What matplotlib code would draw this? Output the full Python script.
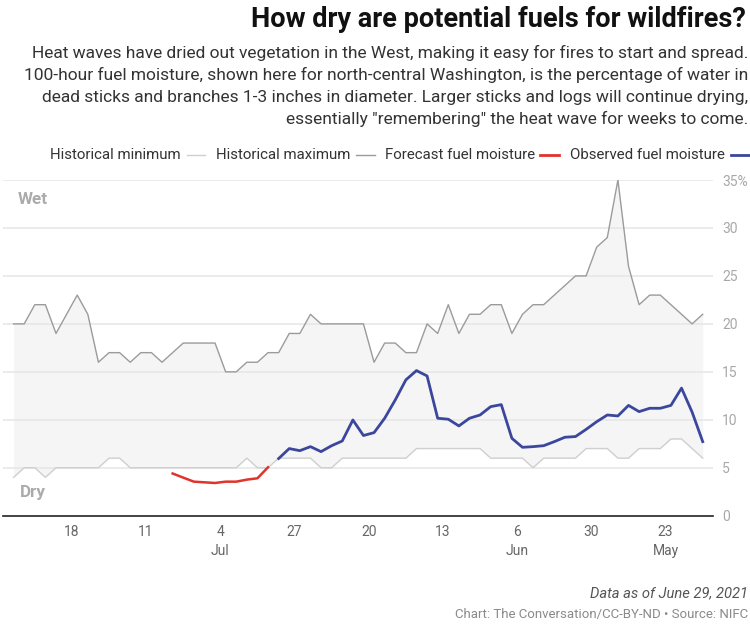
import matplotlib
matplotlib.use("Agg")
import matplotlib.pyplot as plt
import matplotlib.dates as mdates
import pandas as pd
import numpy as np
from matplotlib.lines import Line2D

plt.rcParams['font.family'] = ['Roboto', 'DejaVu Sans']

# ---------------- data ----------------
start_date = "2021-05-19 12:00"
hist_max = [21, 20, 21, 22, 23, 23, 22, 26, 35, 29, 28, 25, 25, 24, 23, 22, 22, 21, 19, 22,
            22, 21, 21, 19, 22, 19, 20, 17, 17, 18, 18, 16, 20, 20, 20, 20, 20, 21, 19, 19,
            17, 17, 16, 16, 15, 15, 18, 18, 18, 18, 17, 16, 17, 17, 16, 17, 17, 16, 21, 23,
            21, 19, 22, 22, 20, 20]
hist_min = [6, 7, 8, 8, 7, 7, 7, 6, 6, 7, 7, 7, 6, 6, 6, 6, 5, 6, 6, 6,
            6, 7, 7, 7, 7, 7, 7, 7, 6, 6, 6, 6, 6, 6, 6, 5, 5, 6, 6, 6,
            6, 5, 5, 6, 5, 5, 5, 5, 5, 5, 5, 5, 5, 5, 5, 6, 6, 5, 5, 5,
            5, 5, 4, 5, 5, 4]
observed = [7.72, 10.8, 13.3, 11.5, 11.2, 11.2, 10.85, 11.5, 10.4, 10.5,
            9.8, 9.0, 8.25, 8.18, 7.72, 7.3, 7.2, 7.13, 8.07, 11.58,
            11.37, 10.5, 10.16, 9.36, 10.06, 10.16, 14.57, 15.13, 14.16, 12.07,
            10.16, 8.66, 8.36, 9.98, 7.79, 7.3, 6.68, 7.2, 6.78, 7.0, 5.96]
forecast = [5.05, 3.9, 3.76, 3.55, 3.55, 3.41, 3.48, 3.55, 3.97, 4.4]

tick_dates = ["2021-05-23", "2021-05-30", "2021-06-06", "2021-06-13", "2021-06-20",
              "2021-06-27", "2021-07-04", "2021-07-11", "2021-07-18"]
tick_labels = ["23\nMay", "30", "6\nJun", "13", "20", "27", "4\nJul", "11", "18"]
y_ticks = [0, 5, 10, 15, 20, 25, 30, 35]
y_tick_labels = ["0", "5", "10", "15", "20", "25", "30", "35%"]

title = "How dry are potential fuels for wildfires?"
subtitle_lines = [
    "Heat waves have dried out vegetation in the West, making it easy for fires to start and spread.",
    "100-hour fuel moisture, shown here for north-central Washington, is the percentage of water in",
    "dead sticks and branches 1-3 inches in diameter. Larger sticks and logs will continue drying,",
    "essentially \"remembering\" the heat wave for weeks to come.",
]
legend_labels = ["Observed fuel moisture", "Forecast fuel moisture",
                 "Historical maximum", "Historical minimum"]

# ---------------- figure ----------------
W, H = 750, 625
fig = plt.figure(figsize=(W / 100, H / 100), dpi=100)

def fx(px):
    return px / W

def fy(py):
    return 1 - py / H

BLUE = "#3b479c"
RED = "#e0332b"
MAXC = "#9b9b9b"
MINC = "#cfcfcf"
FILLC = "#f5f5f5"
GRID = "#e6e6e6"

ax_left, ax_right, ax_top, ax_bottom = 3, 713, 180, 515.7
ax = fig.add_axes([fx(ax_left), fy(ax_bottom), fx(ax_right - ax_left), (ax_bottom - ax_top) / H])

dates = pd.date_range(start_date, periods=len(hist_max), freq="D")
obs_dates = dates[:len(observed)]
fc_dates = dates[len(observed):len(observed) + len(forecast)]

ax.fill_between(dates, hist_min, hist_max, color=FILLC, lw=0, zorder=1)
for yv in y_ticks[1:]:
    ax.axhline(yv, color=GRID, lw=1.1, zorder=1.5)
ax.plot(dates, hist_max, color=MAXC, lw=1.0, zorder=2)
ax.plot(dates, hist_min, color=MINC, lw=1.0, zorder=2)
ax.plot(obs_dates, observed, color=BLUE, lw=2.0, zorder=3, solid_joinstyle="round")
ax.plot(fc_dates, forecast, color=RED, lw=1.8, zorder=3, solid_joinstyle="round")
ax.axhline(0, color="#222222", lw=1.2, zorder=4, clip_on=False)

ax.set_ylim(0, 35)
d0 = mdates.date2num(dates[0])
ax.set_xlim(d0 + 66.0, d0 - 0.97)

ax.set_xticks([mdates.date2num(pd.Timestamp(t)) for t in tick_dates])
ax.set_xticklabels(tick_labels, color="#666666", fontsize=10, linespacing=1.45)
ax.tick_params(axis="x", length=0, pad=7)
ax.yaxis.tick_right()
ax.set_yticks(y_ticks)
ax.set_yticklabels(y_tick_labels, color="#a8a8a8", fontsize=10)
ax.tick_params(axis="y", length=0, pad=6.5)
for lbl in ax.get_yticklabels():
    lbl.set_horizontalalignment("left")
for s in ax.spines.values():
    s.set_visible(False)
ax.set_facecolor("none")

ax.text(fx(18), fy(199), "Wet", transform=fig.transFigure, fontsize=12.3, fontweight="bold",
        color="#ababab", ha="left", va="center")
ax.text(fx(20), fy(492), "Dry", transform=fig.transFigure, fontsize=12.3, fontweight="bold",
        color="#ababab", ha="left", va="center")

# ---------------- texts ----------------
fig.text(fx(746), fy(27), title, fontsize=19.5, fontweight="bold", color="#111111",
         ha="right", va="baseline")
for i, line in enumerate(subtitle_lines):
    fig.text(fx(748), fy(58 + 22 * i), line, fontsize=12.5, color="#333333",
             ha="right", va="baseline")

# legend (mirrored layout: swatch to the right of its label)
leg_items = [
    (legend_labels[0], BLUE, 2.0, 731, 749, 725),
    (legend_labels[1], RED, 2.0, 540, 559, 535),
    (legend_labels[2], MAXC, 1.0, 356, 375, 350),
    (legend_labels[3], MINC, 1.0, 187, 205, 181),
]
for label, col, lw, x1, x2, xt in leg_items:
    fig.add_artist(Line2D([fx(x1), fx(x2)], [fy(155), fy(155)], color=col, lw=lw,
                          transform=fig.transFigure))
    fig.text(fx(xt), fy(155), label, fontsize=10.85, color="#333333", ha="right", va="center")

fig.text(fx(748), fy(597), "Data as of June 29, 2021", fontsize=10.6, color="#555555",
         style="italic", ha="right", va="baseline")
fig.text(fx(748), fy(618), "Chart: The Conversation/CC-BY-ND \u2022 Source: NIFC", fontsize=9.5,
         color="#8a8a8a", ha="right", va="baseline")

fig.savefig("out.png", dpi=100)
